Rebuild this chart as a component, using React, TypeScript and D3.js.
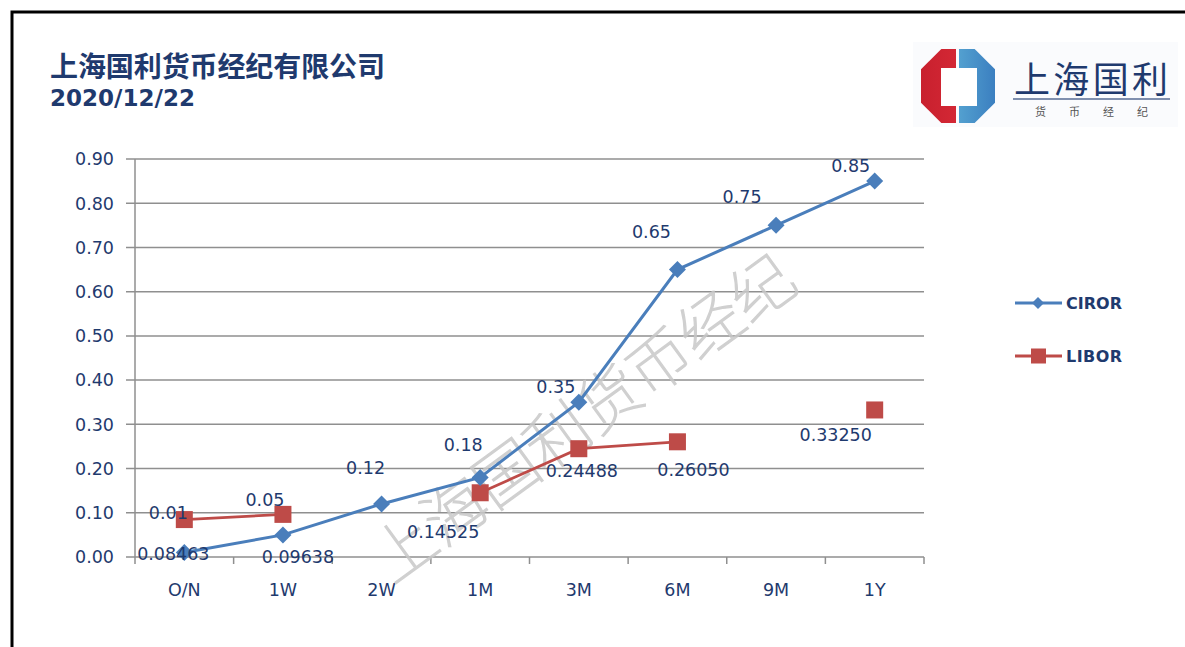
import { useEffect, useRef } from 'react';
import * as d3 from 'd3';

const categories = ['O/N', '1W', '2W', '1M', '3M', '6M', '9M', '1Y'];
const cirorValues = [0.01, 0.05, 0.12, 0.18, 0.35, 0.65, 0.75, 0.85];
const cirorLabels = ['0.01', '0.05', '0.12', '0.18', '0.35', '0.65', '0.75', '0.85'];
const liborValues: (number | null)[] = [0.08463, 0.09638, null, 0.14525, 0.24488, 0.2605, null, 0.3325];
const liborLabels = ['0.08463', '0.09638', '', '0.14525', '0.24488', '0.26050', '', '0.33250'];
const yTicks = [0, 0.1, 0.2, 0.3, 0.4, 0.5, 0.6, 0.7, 0.8, 0.9];
const seriesNames = ['CIROR', 'LIBOR'];

const TITLE = '上海国利货币经纪有限公司';
const DATE = '2020/12/22';
const WATERMARK = '上海国利货币经纪';

const BLUE = '#4a7ebb';
const RED = '#be4b48';
const NAVY = '#1f3a6e';
const GRID = '#8f8f8f';

// label nudges (Excel had them dragged around by hand)
const cirorLabelOffset = [[-16, -40], [-18, -35], [-16, -36], [-17, -33], [-23, -16], [-26, -38], [-34, -29], [-24, -15]];
const liborLabelOffset = [[-11, 34], [15, 42], [0, 0], [-37, 39], [3, 22], [16, 28], [0, 0], [-39, 25]];

export default function App() {
  const ref = useRef<SVGSVGElement>(null);

  useEffect(() => {
    document.body.style.margin = '0';
    if (!ref.current) return;
    const svg = d3.select(ref.current);
    svg.selectAll('*').remove();

    const font = '"DejaVu Sans", Verdana, sans-serif';
    const cjk = '"Noto Sans CJK SC", sans-serif';

    svg.append('rect').attr('width', 1185).attr('height', 647).attr('fill', '#fff');

    // frame
    svg.append('path')
      .attr('d', 'M12,647 L12,12 L1185,12')
      .attr('fill', 'none').attr('stroke', '#000').attr('stroke-width', 3);

    // title
    svg.append('text')
      .attr('x', 50).attr('y', 77)
      .attr('font-family', cjk).attr('font-weight', 700).attr('font-size', 28)
      .attr('fill', NAVY).attr('textLength', 335)
      .text(TITLE);
    svg.append('text')
      .attr('x', 50).attr('y', 106)
      .attr('font-family', font).attr('font-weight', 700).attr('font-size', 23)
      .attr('fill', NAVY).attr('textLength', 145)
      .text(DATE);

    // logo
    const logo = svg.append('g');
    logo.append('rect').attr('x', 913).attr('y', 42).attr('width', 265).attr('height', 85).attr('fill', '#fafbfd');
    const oct = (cx: number, cy: number, r: number) => {
      const k = r * 0.45;
      return `M${cx - k},${cy - r} L${cx + k},${cy - r} L${cx + r},${cy - k} L${cx + r},${cy + k} L${cx + k},${cy + r} L${cx - k},${cy + r} L${cx - r},${cy + k} L${cx - r},${cy - k} Z`;
    };
    const defs = svg.append('defs');
    defs.append('clipPath').attr('id', 'leftHalf').append('rect').attr('x', 900).attr('y', 40).attr('width', 56).attr('height', 100);
    defs.append('clipPath').attr('id', 'rightHalf').append('rect').attr('x', 959).attr('y', 40).attr('width', 60).attr('height', 100);
    const gb = defs.append('linearGradient').attr('id', 'logoBlue').attr('x1', '0%').attr('x2', '100%');
    gb.append('stop').attr('offset', '0%').attr('stop-color', '#6cc3e0');
    gb.append('stop').attr('offset', '100%').attr('stop-color', '#3b7fc0');
    const gr = defs.append('linearGradient').attr('id', 'logoRed').attr('x1', '0%').attr('x2', '100%');
    gr.append('stop').attr('offset', '0%').attr('stop-color', '#c8202e');
    gr.append('stop').attr('offset', '100%').attr('stop-color', '#e0303c');
    logo.append('path').attr('d', oct(958, 86, 37)).attr('fill', 'url(#logoRed)').attr('clip-path', 'url(#leftHalf)');
    logo.append('path').attr('d', oct(958, 86, 37)).attr('fill', 'url(#logoBlue)').attr('clip-path', 'url(#rightHalf)');
    logo.append('rect').attr('x', 941).attr('y', 68).attr('width', 36).attr('height', 38).attr('fill', '#fff');
    logo.append('text')
      .attr('x', 1014).attr('y', 93)
      .attr('font-family', cjk).attr('font-size', 36).attr('fill', NAVY)
      .attr('textLength', 154)
      .text('上海国利');
    logo.append('line')
      .attr('x1', 1013).attr('x2', 1170).attr('y1', 99).attr('y2', 99)
      .attr('stroke', '#7f8fae').attr('stroke-width', 2);
    logo.append('text')
      .attr('x', 1035).attr('y', 116)
      .attr('font-family', cjk).attr('font-size', 11).attr('fill', '#555')
      .attr('textLength', 113)
      .text('货币经纪');

    // scales
    const x = d3.scaleBand<string>().domain(categories).range([135, 924]);
    const cx = (c: string) => (x(c) as number) + x.bandwidth() / 2;
    const y = d3.scaleLinear().domain([0, 0.9]).range([557, 159]);

    // grid + y ticks
    const g = svg.append('g');
    g.selectAll('line.grid')
      .data(yTicks)
      .enter().append('line')
      .attr('x1', 126).attr('x2', 924)
      .attr('y1', d => y(d)).attr('y2', d => y(d))
      .attr('stroke', GRID).attr('stroke-width', 1.5);
    g.selectAll('text.ytick')
      .data(yTicks)
      .enter().append('text')
      .attr('x', 114).attr('y', d => y(d)).attr('dy', '0.36em')
      .attr('text-anchor', 'end')
      .attr('font-family', font).attr('font-size', 17.5).attr('fill', NAVY)
      .text(d => d.toFixed(2));

    // axes
    g.append('line').attr('x1', 135).attr('x2', 135).attr('y1', 159).attr('y2', 557)
      .attr('stroke', GRID).attr('stroke-width', 1.5);
    g.selectAll('line.xtick')
      .data([...categories.map(c => x(c) as number), 924])
      .enter().append('line')
      .attr('x1', d => d).attr('x2', d => d).attr('y1', 557).attr('y2', 564)
      .attr('stroke', GRID).attr('stroke-width', 1.5);
    g.selectAll('text.xtick')
      .data(categories)
      .enter().append('text')
      .attr('x', d => cx(d)).attr('y', 596)
      .attr('text-anchor', 'middle')
      .attr('font-family', font).attr('font-size', 17.5).attr('fill', NAVY)
      .text(d => d);

    // watermark
    svg.append('text')
      .attr('transform', 'translate(583,418) rotate(-36)')
      .attr('text-anchor', 'middle').attr('dy', '0.36em')
      .attr('font-family', cjk).attr('font-weight', 100).attr('font-size', 63)
      .attr('fill', '#c8c8c8').attr('stroke', '#c8c8c8').attr('stroke-width', 1.3)
      .attr('opacity', 0.85)
      .attr('textLength', 505)
      .text(WATERMARK);

    // series
    const line = d3.line<number | null>()
      .defined(d => d != null)
      .x((_, i) => cx(categories[i]))
      .y(d => y(d as number));

    svg.append('path').datum(liborValues)
      .attr('fill', 'none').attr('stroke', RED).attr('stroke-width', 2.75)
      .attr('d', line);
    svg.append('path').datum(cirorValues as (number | null)[])
      .attr('fill', 'none').attr('stroke', BLUE).attr('stroke-width', 3)
      .attr('d', line);

    svg.selectAll('rect.libor')
      .data(liborValues.map((v, i) => ({ v, i })).filter(d => d.v != null))
      .enter().append('rect')
      .attr('x', d => cx(categories[d.i]) - 8.5).attr('y', d => y(d.v as number) - 8.5)
      .attr('width', 17).attr('height', 17).attr('fill', RED);
    svg.selectAll('path.ciror')
      .data(cirorValues.map((v, i) => ({ v, i })))
      .enter().append('path')
      .attr('d', d => {
        const px = cx(categories[d.i]), py = y(d.v);
        return `M${px},${py - 8.5} L${px + 8.5},${py} L${px},${py + 8.5} L${px - 8.5},${py} Z`;
      })
      .attr('fill', BLUE);

    // data labels
    const labels = svg.append('g')
      .attr('font-family', font).attr('font-size', 17.5).attr('fill', NAVY)
      .attr('text-anchor', 'middle');
    cirorValues.forEach((v, i) => {
      labels.append('text')
        .attr('x', cx(categories[i]) + cirorLabelOffset[i][0])
        .attr('y', y(v) + cirorLabelOffset[i][1]).attr('dy', '0.36em')
        .text(cirorLabels[i]);
    });
    liborValues.forEach((v, i) => {
      if (v == null) return;
      labels.append('text')
        .attr('x', cx(categories[i]) + liborLabelOffset[i][0])
        .attr('y', y(v) + liborLabelOffset[i][1]).attr('dy', '0.36em')
        .text(liborLabels[i]);
    });

    // legend
    const legend = svg.append('g');
    seriesNames.forEach((name, i) => {
      const ly = 303 + i * 53;
      const color = i === 0 ? BLUE : RED;
      legend.append('line').attr('x1', 1015).attr('x2', 1062).attr('y1', ly).attr('y2', ly)
        .attr('stroke', color).attr('stroke-width', 3);
      if (i === 0) {
        legend.append('path')
          .attr('d', `M1038,${ly - 6} L1044,${ly} L1038,${ly + 6} L1032,${ly} Z`).attr('fill', color);
      } else {
        legend.append('rect').attr('x', 1031).attr('y', ly - 7.5).attr('width', 15).attr('height', 15).attr('fill', color);
      }
      legend.append('text')
        .attr('x', 1066).attr('y', ly).attr('dy', '0.36em')
        .attr('font-family', font).attr('font-weight', 700).attr('font-size', 16)
        .attr('fill', NAVY).attr('textLength', 56)
        .text(name);
    });
  }, []);

  return (
    <svg ref={ref} width={1185} height={647}
      style={{ position: 'absolute', left: 0, top: 0, display: 'block' }} />
  );
}
